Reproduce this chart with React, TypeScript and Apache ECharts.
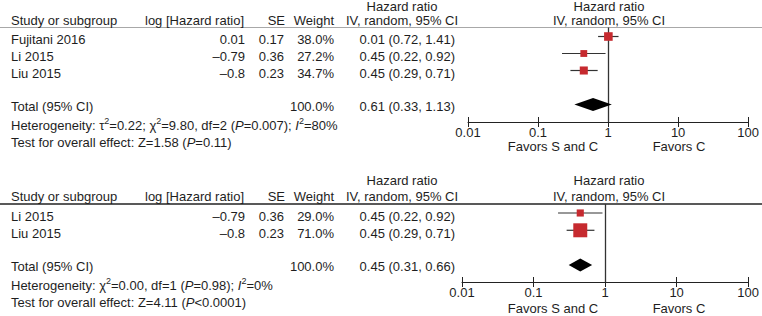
import React, { useEffect, useRef } from "react";
import * as echarts from "echarts";

// ---------- Data: panel A ----------
const studiesA = ["Fujitani 2016", "Li 2015", "Liu 2015"];
const logHrA = ["0.01", "–0.79", "–0.8"];
const seA = ["0.17", "0.36", "0.23"];
const weightA = [38.0, 27.2, 34.7];
const hrA = [1.01, 0.45, 0.45];
const loA = [0.72, 0.22, 0.29];
const hiA = [1.41, 0.92, 0.71];
const ciTextA = ["0.01 (0.72, 1.41)", "0.45 (0.22, 0.92)", "0.45 (0.29, 0.71)"];
const totalA = [0.61, 0.33, 1.13];
const totalWeightA = "100.0%";
const totalTextA = "0.61 (0.33, 1.13)";
const hetA = "Heterogeneity: τ{sup|2}=0.22; χ{sup|2}=9.80, df=2 ({it|P}=0.007); {it|I}{sup|2}=80%";
const testA = "Test for overall effect: Z=1.58 ({it|P}=0.11)";

// ---------- Data: panel B ----------
const studiesB = ["Li 2015", "Liu 2015"];
const logHrB = ["–0.79", "–0.8"];
const seB = ["0.36", "0.23"];
const weightB = [29.0, 71.0];
const hrB = [0.45, 0.45];
const loB = [0.22, 0.29];
const hiB = [0.92, 0.71];
const ciTextB = ["0.45 (0.22, 0.92)", "0.45 (0.29, 0.71)"];
const totalB = [0.45, 0.31, 0.66];
const totalWeightB = "100.0%";
const totalTextB = "0.45 (0.31, 0.66)";
const hetB = "Heterogeneity: χ{sup|2}=0.00, df=1 ({it|P}=0.98); {it|I}{sup|2}=0%";
const testB = "Test for overall effect: Z=4.11 ({it|P}<0.0001)";

const tickLabels = ["0.01", "0.1", "1", "10", "100"];
const favorsLeft = "Favors S and C";
const favorsRight = "Favors C";

// ---------- Style / layout ----------
const FONT = "'Liberation Sans', Arial, Helvetica, sans-serif";
const TXT = "#1e1e1e";
const RED = "#c62a2f";
const W = 762;
const H = 316;

const panels = [
  {
    studies: studiesA, logHr: logHrA, se: seA, weight: weightA, hr: hrA, lo: loA, hi: hiA,
    ciText: ciTextA, total: totalA, totalWeight: totalWeightA, totalText: totalTextA, het: hetA, test: testA,
    gridTop: 27.5, axisY: 122, gridLeft: 468, yMin: -0.53, yMax: 5.03,
    rowTop: 36.5, rowStep: 17, headY: [6.5, 20.5], hetY: 125, testY: 142.5, favY: 146,
    lineColor: "#a8a8a8", plotCenter: 609,
  },
  {
    studies: studiesB, logHr: logHrB, se: seB, weight: weightB, hr: hrB, lo: loB, hi: hiB,
    ciText: ciTextB, total: totalB, totalWeight: totalWeightB, totalText: totalTextB, het: hetB, test: testB,
    gridTop: 204, axisY: 282, gridLeft: 462, yMin: -0.52, yMax: 3.99,
    rowTop: 213, rowStep: 17.3, headY: [180, 196], hetY: 285, testY: 302, favY: 308,
    lineColor: "#222222", plotCenter: 609,
  },
];

const sizeOf = (w: number) => 2.4 + 0.163 * w;

function text(x: number, y: number, t: string, align = "left", rich = false): any {
  const style: any = {
    text: t,
    font: `13px ${FONT}`,
    fill: TXT,
    align,
    verticalAlign: "middle",
    textAlign: align,
    textVerticalAlign: "middle",
  };
  if (rich) {
    style.lineHeight = 18;
    style.rich = {
      sup: { font: `9px ${FONT}`, fill: TXT, verticalAlign: "top", lineHeight: 10 },
      it: { font: `italic 13px ${FONT}`, fill: TXT, lineHeight: 18 },
    };
  }
  return { type: "text", x, y, silent: true, style };
}

export default function App() {
  const ref = useRef<HTMLDivElement>(null);

  useEffect(() => {
    if (!ref.current) return;
    const chart = echarts.init(ref.current, undefined, { renderer: "svg", width: W, height: H });

    const grids: any[] = [];
    const xAxes: any[] = [];
    const yAxes: any[] = [];
    const series: any[] = [];
    const graphics: any[] = [];

    panels.forEach((p, gi) => {
      grids.push({ left: p.gridLeft, right: W - 751, top: p.gridTop, height: p.axisY - p.gridTop, containLabel: false });
      const base: any = {
        type: "log", logBase: 10, min: 0.01, max: 100, gridIndex: gi, position: "bottom",
        splitLine: { show: false },
      };
      xAxes.push({
        ...base,
        axisLine: { show: true, onZero: false, lineStyle: { color: "#222", width: 1 } },
        axisTick: { show: true, length: 5, lineStyle: { color: "#222", width: 1 } },
        axisLabel: {
          show: true, margin: 4, fontSize: 13, fontFamily: FONT, color: TXT,
          formatter: (v: number) => tickLabels[Math.round(Math.log10(v)) + 2] ?? "",
        },
      });
      xAxes.push({
        ...base,
        axisLine: { show: false, onZero: false },
        axisTick: { show: true, inside: true, length: 5, lineStyle: { color: "#222", width: 1 } },
        axisLabel: { show: false },
      });
      yAxes.push({ type: "value", gridIndex: gi, min: p.yMin, max: p.yMax, inverse: true, show: false });

      const n = p.studies.length;
      const totalRow = n + 1;
      const studyData = p.studies.map((_, i) => [p.hr[i], i, p.lo[i], p.hi[i], sizeOf(p.weight[i])]);

      series.push({
        type: "custom",
        xAxisIndex: gi * 2,
        yAxisIndex: gi,
        z: 10,
        clip: false,
        data: studyData,
        renderItem: (_params: any, api: any) => {
          const row = api.value(1);
          const c = api.coord([api.value(0), row]);
          const l = api.coord([api.value(2), row]);
          const h = api.coord([api.value(3), row]);
          const s = api.value(4);
          return {
            type: "group",
            children: [
              { type: "line", shape: { x1: l[0], y1: l[1], x2: h[0], y2: h[1] }, style: { stroke: "#333", lineWidth: 1.2 } },
              { type: "rect", shape: { x: c[0] - s / 2, y: c[1] - s / 2, width: s, height: s }, style: { fill: RED } },
            ],
          };
        },
        markLine: {
          silent: true,
          symbol: ["none", "none"],
          label: { show: false },
          lineStyle: { color: "#333", width: 1.3, type: "solid" },
          data: [{ xAxis: 1 }],
        },
      });

      series.push({
        type: "custom",
        xAxisIndex: gi * 2,
        yAxisIndex: gi,
        z: 10,
        clip: false,
        data: [[p.total[0], totalRow, p.total[1], p.total[2]]],
        renderItem: (_params: any, api: any) => {
          const row = api.value(1);
          const c = api.coord([api.value(0), row]);
          const l = api.coord([api.value(2), row]);
          const h = api.coord([api.value(3), row]);
          const hh = 6.5;
          return {
            type: "polygon",
            shape: { points: [[l[0], c[1]], [c[0], c[1] - hh], [h[0], c[1]], [c[0], c[1] + hh]] },
            style: { fill: "#000" },
          };
        },
      });

      // Header line
      graphics.push({
        type: "line", silent: true,
        shape: { x1: 0, y1: p.gridTop, x2: W, y2: p.gridTop },
        style: { stroke: p.lineColor, lineWidth: gi === 0 ? 1 : 1.3 },
      });

      // Headers
      graphics.push(text(402, p.headY[0], "Hazard ratio", "center"));
      graphics.push(text(p.plotCenter, p.headY[0], "Hazard ratio", "center"));
      graphics.push(text(11, p.headY[1], "Study or subgroup"));
      graphics.push(text(244, p.headY[1], "log [Hazard ratio]", "right"));
      graphics.push(text(285, p.headY[1], "SE", "right"));
      graphics.push(text(334, p.headY[1], "Weight", "right"));
      graphics.push(text(402, p.headY[1], "IV, random, 95% CI", "center"));
      graphics.push(text(p.plotCenter, p.headY[1], "IV, random, 95% CI", "center"));

      const rowTextY = (r: number) => p.rowTop + p.rowStep * r + 3;
      p.studies.forEach((s, i) => {
        const y = rowTextY(i);
        graphics.push(text(11, y, s));
        graphics.push(text(245, y, p.logHr[i], "right"));
        graphics.push(text(284, y, p.se[i], "right"));
        graphics.push(text(334, y, p.weight[i].toFixed(1) + "%", "right"));
        graphics.push(text(455, y, p.ciText[i], "right"));
      });
      const ty = rowTextY(totalRow) - 1;
      graphics.push(text(11, ty, "Total (95% CI)"));
      graphics.push(text(334, ty, p.totalWeight, "right"));
      graphics.push(text(455, ty, p.totalText, "right"));
      graphics.push(text(11, p.hetY, p.het, "left", true));
      graphics.push(text(11, p.testY, p.test, "left", true));

      graphics.push(text(553, p.favY, favorsLeft, "center"));
      graphics.push(text(679, p.favY, favorsRight, "center"));
    });

    chart.setOption({
      animation: false,
      backgroundColor: "#ffffff",
      grid: grids,
      xAxis: xAxes,
      yAxis: yAxes,
      series,
      graphic: { elements: graphics },
    });

    return () => chart.dispose();
  }, []);

  return (
    <div
      ref={ref}
      style={{ position: "fixed", left: 0, top: 0, width: W, height: H, background: "#fff" }}
    />
  );
}
